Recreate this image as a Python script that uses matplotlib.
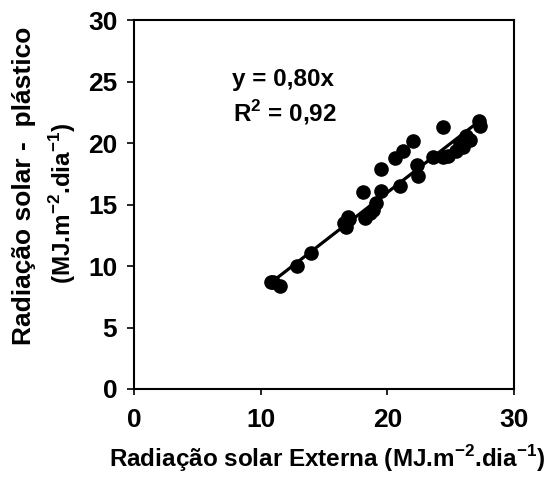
import matplotlib
matplotlib.use("Agg")
import matplotlib.pyplot as plt
import numpy as np

plt.rcParams['font.family'] = ['Liberation Sans', 'DejaVu Sans']
plt.rcParams['font.weight'] = 'bold'
plt.rcParams['mathtext.fontset'] = 'custom'
plt.rcParams['mathtext.rm'] = 'Liberation Sans:bold'
plt.rcParams['mathtext.bf'] = 'Liberation Sans:bold'

# radiacao externa (x) vs radiacao sob plastico (y)
externa = [10.8, 11.0, 11.5, 12.9, 13.95, 16.6, 16.75, 16.9, 17.0, 18.1,
           18.2, 18.6, 18.9, 19.1, 19.5, 19.5, 20.6, 21.0, 21.2, 22.0,
           22.3, 22.4, 23.6, 24.4, 24.4, 24.8, 25.4, 25.7, 26.0, 26.2,
           26.5, 27.2, 27.3]
plastico = [8.7, 8.7, 8.4, 10.0, 11.1, 13.5, 13.2, 14.0, 13.8, 16.0,
            13.9, 14.3, 14.6, 15.1, 17.9, 16.1, 18.8, 16.5, 19.4, 20.2,
            18.2, 17.3, 18.9, 21.3, 18.9, 19.0, 19.4, 20.0, 19.7, 20.6,
            20.3, 21.8, 21.4]
slope = 0.80
r2 = 0.92

fig = plt.figure(figsize=(5.51, 4.88), dpi=100)
ax = fig.add_axes([0.243, 0.203, 0.690, 0.755])

ax.plot(externa, plastico, 'o', color='black', markersize=9.5, zorder=3)
xl = np.array([min(externa), max(externa)])
ax.plot(xl, slope * xl, '-', color='black', linewidth=2.3, zorder=2)

ax.set_xlim(0, 30)
ax.set_ylim(0, 30)
ax.set_xticks([0, 10, 20, 30])
ax.set_yticks([0, 5, 10, 15, 20, 25, 30])
ax.tick_params(axis='x', direction='out', length=4, width=1.2, pad=10, labelsize=19)
ax.tick_params(axis='y', direction='out', length=5, width=1.2, pad=7, labelsize=19)
for s in ax.spines.values():
    s.set_linewidth(1.5)

eq = 'y = ' + ('%.2f' % slope).replace('.', ',') + 'x'
rq = 'R$^{2}$ = ' + ('%.2f' % r2).replace('.', ',')
ax.text(11.8, 25.2, eq, ha='center', va='center', fontsize=17.5)
ax.text(11.9, 22.5, rq, ha='center', va='center', fontsize=17.5)

fig.text(0.594, 0.06, r'Radiação solar Externa (MJ.m$^{-2}$.dia$^{-1}$)',
         ha='center', va='center', fontsize=17.5)
fig.text(0.044, 0.62, 'Radiação solar -  plástico', rotation=90,
         ha='center', va='center', fontsize=19)
fig.text(0.113, 0.583, r'(MJ.m$^{-2}$.dia$^{-1}$)', rotation=90,
         ha='center', va='center', fontsize=17.5)

fig.savefig('out.png', dpi=100)
